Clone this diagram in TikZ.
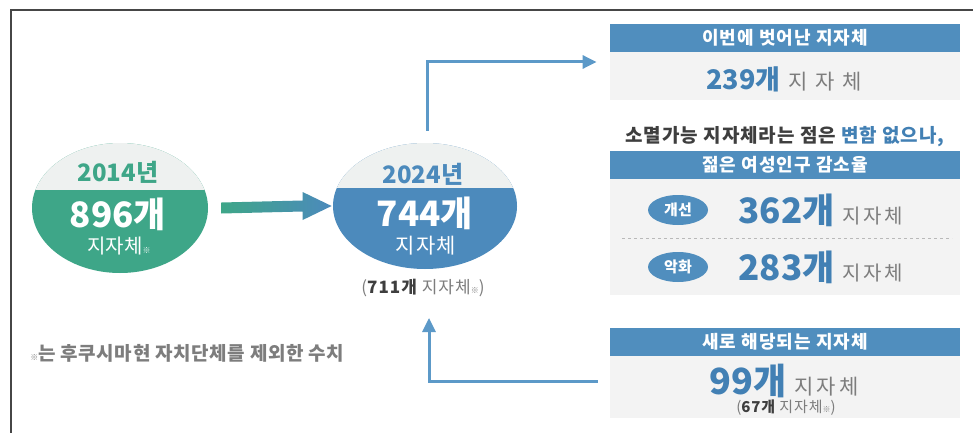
\documentclass[tikz,border=0pt]{standalone}
\usepackage{fontspec}
\setmainfont{Noto Sans CJK KR}
\usetikzlibrary{positioning, arrows.meta, calc, shapes.geometric}

\definecolor{teal2014}{RGB}{62,166,136}
\definecolor{blue2024}{RGB}{76,138,188}
\definecolor{capgray}{RGB}{238,241,240}
\definecolor{boxgray}{RGB}{243,243,243}
\definecolor{headblue}{RGB}{80,142,190}
\definecolor{numblue}{RGB}{66,128,180}
\definecolor{txtgray}{RGB}{125,125,125}
\definecolor{darktxt}{RGB}{62,62,62}
\definecolor{linkblue}{RGB}{92,153,200}
\definecolor{framegray}{RGB}{70,70,70}

\newcommand{\fsz}[1]{\fontsize{#1}{#1}\selectfont}
\newcommand{\kome}{{\fontsize{8}{8}\selectfont ※}}
\newcommand{\jjc}[2]{{\fsz{#1}\addfontfeatures{LetterSpace=#2}\color{txtgray}지자체}}

\begin{document}
\begin{tikzpicture}[x=1pt, y=-1pt, thick,
    oval/.style = {ellipse, draw=none, inner sep=0pt, minimum width=176pt, minimum height=130pt},
    yeartxt/.style = {font=\fsz{24}\bfseries, inner sep=0pt},
    bignum/.style = {font=\fsz{35}\bfseries, text=white, inner sep=0pt},
    panel/.style = {fill=boxgray, draw=none, minimum width=350pt, inner sep=0pt},
    headbar/.style = {fill=headblue, draw=none, minimum width=350pt, minimum height=28pt, inner sep=0pt, text=white, font=\fsz{18}\bfseries\addfontfeatures{LetterSpace=6}},
    tag/.style = {ellipse, fill=headblue, inner sep=0pt, minimum width=60pt, minimum height=30pt, text=white, font=\fsz{15}\bfseries},
    link/.style = {linkblue, line width=3pt, -{Triangle[length=14pt, width=13pt]}}]

    % canvas and frame
    \fill[white] (0,0) rectangle (973,433);
    \useasboundingbox (0,0) rectangle (973,433);
    \draw[framegray, line width=1.5pt] (11,433) -- (11,10) -- (973,10);

    % 2014 oval
    \node[oval, fill=teal2014] (y14) at (120,208) {};
    \begin{scope}
        \clip (y14.center) ellipse [x radius=88pt, y radius=65pt];
        \fill[capgray] (25,135) rectangle (215,190);
    \end{scope}
    \node[yeartxt, text=teal2014] (yr14) at (118,172) {2014년};
    \node[bignum] (n14) at (118,214) {896개};
    \node[inner sep=0pt, text=white, font=\fsz{20}] (u14) at (119,246) {지자체\kome};

    % 2024 oval
    \node[oval, fill=blue2024, minimum width=184pt, minimum height=126pt] (y24) at (425,206) {};
    \begin{scope}
        \clip (y24.center) ellipse [x radius=92pt, y radius=63pt];
        \fill[capgray] (325,135) rectangle (525,188);
    \end{scope}
    \node[yeartxt, text=blue2024] (yr24) at (423,174) {2024년};
    \node[bignum] (n24) at (425,213) {744개};
    \node[inner sep=0pt, text=white, font=\fsz{21}\addfontfeatures{LetterSpace=6}] (u24) at (426,246) {지자체};
    \node[inner sep=0pt, text=txtgray, font=\fsz{17}\addfontfeatures{LetterSpace=6}] (note) at (423,288)
        {({\bfseries\color{darktxt}711개} 지자체\kome)};

    % big arrow between the ovals
    \shade[left color=teal2014, right color=blue2024]
        ([xshift=13pt, yshift=5.5pt]y14.east) -- ([xshift=-30pt, yshift=5.5pt]y24.west)
        -- ([xshift=-30pt, yshift=14pt]y24.west) -- ([xshift=-1pt]y24.west)
        -- ([xshift=-30pt, yshift=-14pt]y24.west) -- ([xshift=-30pt, yshift=-5.5pt]y24.west)
        -- ([xshift=13pt, yshift=-5.5pt]y14.east) -- cycle;

    % panel: dropped out
    \node[panel, minimum height=76pt] (gone) at (785,62) {};
    \node[headbar, anchor=north] (goneh) at (gone.north) {이번에 벗어난 지자체};
    \node[inner sep=0pt] (gonen) at (784,79)
        {{\fsz{27}\bfseries\color{numblue}239개}\hspace{8pt}\jjc{21}{36}};

    % panel: young women
    \node[inner sep=0pt, font=\fsz{19}\bfseries\addfontfeatures{LetterSpace=5}, text=darktxt] (claim) at (785,137)
        {소멸가능 지자체라는 점은 {\color{numblue}변함 없으나,}};
    \node[panel, minimum height=144pt] (young) at (785,223) {};
    \node[headbar, anchor=north] (youngh) at (young.north) {젊은 여성인구 감소율};
    \node[tag] (better) at (678,210) {개선};
    \node[tag] (worse) at (678,267) {악화};
    \node[inner sep=0pt, anchor=west] (bettern) at (738,210)
        {{\fsz{35}\bfseries\color{numblue}362개}\hspace{8pt}\jjc{20}{14}};
    \node[inner sep=0pt, anchor=west] (worsen) at (738,267)
        {{\fsz{35}\bfseries\color{numblue}283개}\hspace{8pt}\jjc{20}{14}};
    \draw[gray!55, thin, dashed] (622,238) -- (952,238);

    % panel: newly added
    \node[panel, minimum height=90pt] (fresh) at (785,373) {};
    \node[headbar, anchor=north] (freshh) at (fresh.north) {새로 해당되는 지자체};
    \node[inner sep=0pt] (freshn) at (784,381)
        {{\fsz{36}\bfseries\color{numblue}99개}\hspace{8pt}\jjc{21}{14}};
    \node[inner sep=0pt, text=txtgray, font=\fsz{15}\addfontfeatures{LetterSpace=6}] (freshnote) at (786,408)
        {({\bfseries\color{darktxt}67개} 지자체\kome)};

    % links
    \coordinate (rise) at (429,318);
    \draw[link] ([xshift=2pt, yshift=12pt]y24.north) |- ([xshift=-13pt]gone.west);
    \draw[link] ([xshift=-12pt, yshift=-8pt]fresh.west) -| (rise);

    % footnote
    \node[inner sep=0pt, anchor=west, text=txtgray, font=\fsz{19}\bfseries\addfontfeatures{LetterSpace=3}] (foot) at (30,353)
        {\kome 는 후쿠시마현 자치단체를 제외한 수치};
\end{tikzpicture}
\end{document}
